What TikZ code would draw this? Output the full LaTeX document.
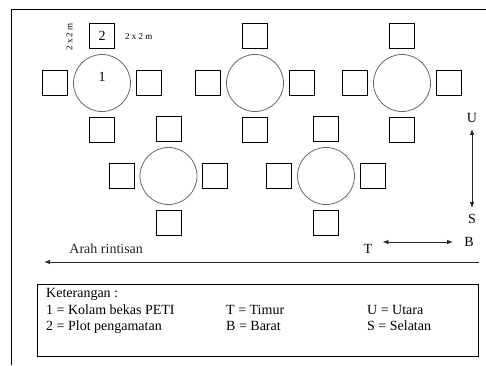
\documentclass[tikz,border=0pt]{standalone}
\usepackage{fontspec}
\setmainfont{Liberation Serif}
\usetikzlibrary{arrows.meta,positioning,calc}

\begin{document}
\begin{tikzpicture}[
  >={Latex[length=6pt,width=4.5pt]},
  kolam/.style={draw=black!60, circle, line width=0.8pt, minimum size=57pt, inner sep=0pt},
  plot/.style={draw, line width=0.8pt, minimum size=25pt, inner sep=0pt},
  num/.style={font=\fontsize{14}{16}\selectfont, inner sep=0pt},
  small/.style={font=\fontsize{9}{10}\selectfont, inner sep=0pt},
  arah/.style={font=\fontsize{14}{16}\selectfont, inner sep=0pt},
  leg/.style={font=\fontsize{14}{16.5}\selectfont, align=left, inner sep=0pt, text depth=4pt},
  dir/.style={line width=0.9pt, black!85}
]
\useasboundingbox (0,0) rectangle (486pt,365pt);

% frame
\draw[line width=0.9pt] (11pt,0pt) -- (11pt,356pt) -- (486pt,356pt);

% kolam with four plots
\foreach \n/\x/\y in {1/102/282, 2/255/282, 3/402/282, 4/168.5/189, 5/326/189} {
  \node[kolam] (c\n) at (\x pt,\y pt) {};
  \node[plot, above=5pt of c\n] (p\n-t) {};
  \node[plot, below=5pt of c\n] (p\n-b) {};
  \node[plot, left=5pt of c\n] (p\n-l) {};
  \node[plot, right=5pt of c\n] (p\n-r) {};
}

\node[num] (n1) at ([yshift=6pt]c1.center) {1};
\node[num] (n2) at (p1-t) {2};
\node[small, rotate=90] (uk1) at (69.5pt,328pt) {2 x 2 m};
\node[small, right=10pt of p1-t] (uk2) {2 x 2 m};

% arah mata angin
\node[arah] (U) at (472pt,247pt) {U};
\node[arah] (S) at (472pt,146pt) {S};
\draw[dir,<->] ([yshift=-6pt]U.south) -- ([yshift=6pt]S.north);
\node[arah] (B) at (469pt,123pt) {B};
\node[arah] (T) at (368pt,116pt) {T};
\draw[dir,<->] ([xshift=10pt]T.east |- B.west) -- ([xshift=-11pt]B.west);

% arah rintisan
\coordinate (r0) at (479pt,103pt);
\coordinate (r1) at (44pt,103pt);
\draw[dir,->] (r0) -- node[arah, above=8pt, pos=0.857] (ar) {Arah rintisan} (r1);

% keterangan
\node[draw, line width=0.9pt, minimum width=441pt, minimum height=72pt, anchor=north west] (legend) at (37pt,81pt) {};
\node[leg, anchor=south west] (k1) at (46pt,30pt) {Keterangan :\\1 = Kolam bekas PETI\\2 = Plot pengamatan};
\node[leg, anchor=south west] (k2) at (226pt,30pt) {T = Timur\\B = Barat};
\node[leg, anchor=south west] (k3) at (367pt,30pt) {U = Utara\\S = Selatan};

\end{tikzpicture}
\end{document}
